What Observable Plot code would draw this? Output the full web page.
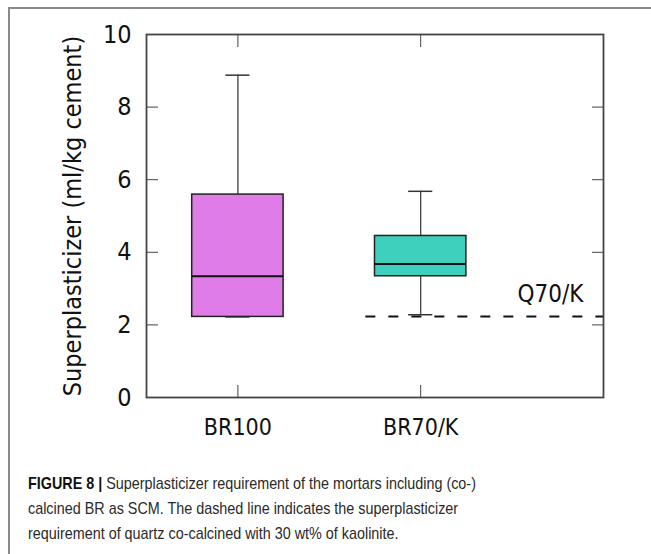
<!DOCTYPE html>
<html><head><meta charset="utf-8">
<script src="https://cdn.jsdelivr.net/npm/d3@7"></script>
<script src="https://cdn.jsdelivr.net/npm/@observablehq/plot@0.6"></script>
<style>
body{margin:0;background:#fff;}
#fig{position:relative;width:651px;height:554px;overflow:hidden;background:#fff;}
#border{position:absolute;left:8px;top:7px;right:-10px;bottom:-10px;border-top:2px solid #8a8a8a;border-left:2px solid #8a8a8a;}
#chart{position:absolute;left:0;top:0;}
#caption{position:absolute;left:28px;top:471px;width:700px;font-family:"Liberation Sans",sans-serif;font-size:17px;line-height:25px;color:#2a2a2a;white-space:nowrap;transform:scaleX(0.845);transform-origin:0 0;}
#caption b{color:#111;}
</style></head><body>
<div id="fig"><div id="border"></div><div id="chart"></div>
<div id="caption"><b>FIGURE 8 |</b> Superplasticizer requirement of the mortars including (co-)<br>calcined BR as SCM. The dashed line indicates the superplasticizer<br>requirement of quartz co-calcined with 30 wt% of kaolinite.</div>
</div>
<script>
const categories = ["BR100", "BR70/K"];
const positions = [1, 2];
const whiskerLow = [2.22, 2.28];
const q1 = [2.22, 3.34];
const median = [3.34, 3.68];
const q3 = [5.59, 4.45];
const whiskerHigh = [8.88, 5.68];
const colors = ["#e07ce8", "#3fd0bd"];
const refValue = 2.23;
const refLabel = "Q70/K";
const yTicks = [0, 2, 4, 6, 8, 10];
const yLabel = "Superplasticizer (ml/kg cement)";

const boxHalf = 0.25, capHalf = 0.066;
const data = categories.map((c, i) => ({
  cat: c, pos: positions[i], lo: whiskerLow[i], q1: q1[i], med: median[i],
  q3: q3[i], hi: whiskerHigh[i], color: colors[i]
}));

const chart = Plot.plot({
  width: 651, height: 450,
  marginLeft: 146, marginRight: 48, marginTop: 34, marginBottom: 53,
  x: {type: "linear", domain: [0.5, 3]},
  y: {domain: [0, 10]},
  style: {fontFamily: "DejaVu Sans Condensed", fontSize: "25px", color: "#111", background: "transparent"},
  marks: [
    Plot.ruleY([refValue], {x1: positions[1] - 0.3, x2: 3, stroke: "#111", strokeWidth: 2, strokeDasharray: "10,13"}),
    Plot.ruleX(data, {x: "pos", y1: "lo", y2: "q1", stroke: "#333", strokeWidth: 1.2}),
    Plot.ruleX(data, {x: "pos", y1: "q3", y2: "hi", stroke: "#333", strokeWidth: 1.2}),
    Plot.ruleY(data, {y: "hi", x1: d => d.pos - capHalf, x2: d => d.pos + capHalf, stroke: "#333", strokeWidth: 1.5}),
    Plot.ruleY(data, {y: "lo", x1: d => d.pos - capHalf, x2: d => d.pos + capHalf, stroke: "#333", strokeWidth: 1.5}),
    Plot.rect(data, {x1: d => d.pos - boxHalf, x2: d => d.pos + boxHalf, y1: "q1", y2: "q3", fill: "color", stroke: "#222", strokeWidth: 1.5}),
    Plot.ruleY(data, {y: "med", x1: d => d.pos - boxHalf, x2: d => d.pos + boxHalf, stroke: "#111", strokeWidth: 2}),
    Plot.text([refLabel], {x: 3, y: refValue, text: d => d, dx: -20, dy: -22, textAnchor: "end", fontSize: 24, fill: "#111"}),
    Plot.axisY({anchor: "left", ticks: yTicks, tickSize: -12, tickPadding: 27, label: yLabel, labelAnchor: "center", labelOffset: 83, labelArrow: "none", stroke: "#444"}),
    Plot.axisY({anchor: "right", ticks: yTicks, tickSize: -12, tickFormat: () => "", label: null, stroke: "#444"}),
    Plot.axisX({anchor: "top", ticks: positions, tickSize: -12, tickFormat: () => "", label: null, stroke: "#444"}),
    Plot.axisX({anchor: "bottom", ticks: positions, tickSize: -12, tickPadding: 33, tickFormat: d => categories[positions.indexOf(d)], label: null, fontSize: 23, stroke: "#444"}),
    Plot.frame({stroke: "#444", strokeWidth: 1.8})
  ]
});
document.getElementById("chart").appendChild(chart);
</script>
</body></html>
